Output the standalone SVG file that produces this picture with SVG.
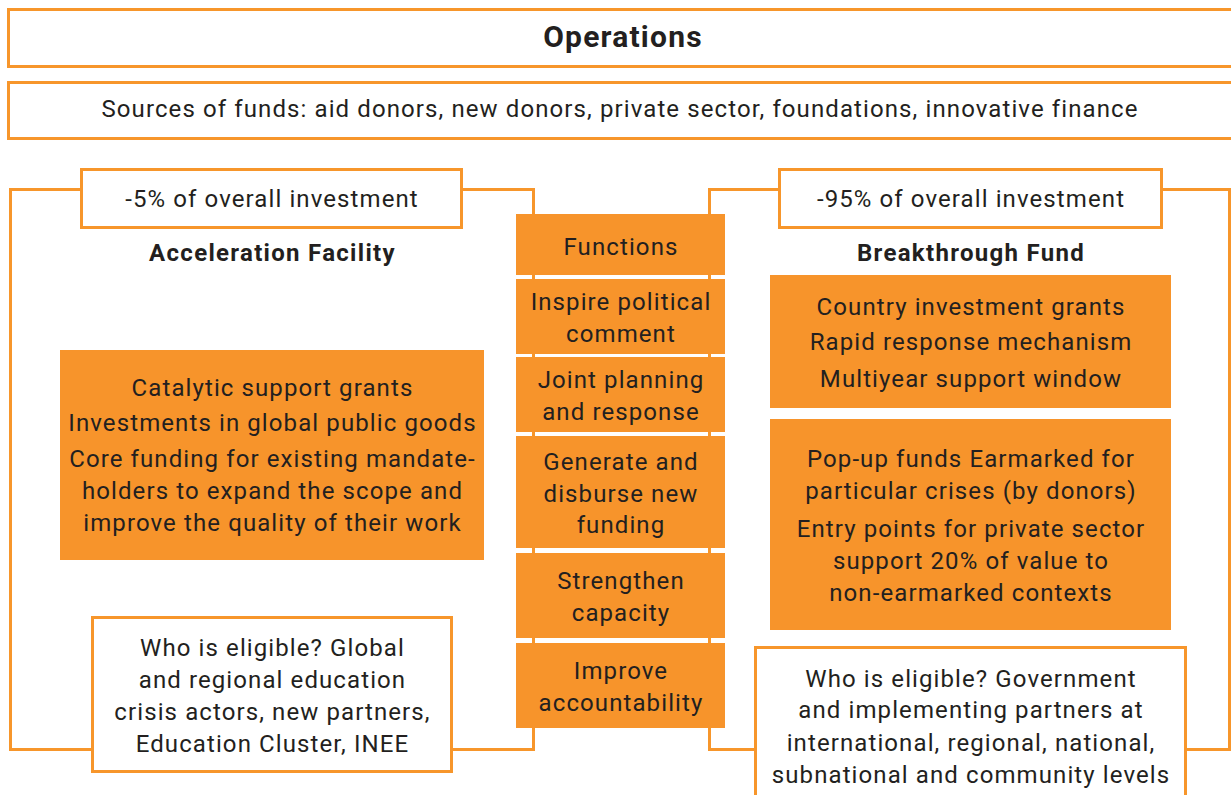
<svg xmlns="http://www.w3.org/2000/svg" width="1231" height="795" viewBox="0 0 1231 795">
  <defs>
    <style>
      .frame { fill: #ffffff; stroke: #F7962B; stroke-width: 3; }
      .fill { fill: #F7942B; stroke: none; }
      .bracket { fill: none; stroke: #F7962B; stroke-width: 3; }
      text { font-family: Roboto, "Liberation Sans", sans-serif; font-size: 24px; letter-spacing: 1.1px; fill: #231F20; text-anchor: middle; }
      .bold { font-weight: bold; letter-spacing: 1.3px; }
      .title { font-size: 30px; font-weight: bold; letter-spacing: 1.2px; }
    </style>
  </defs>
  <rect width="1231" height="795" fill="#ffffff"/>

  <!-- bracket connectors behind the nodes -->
  <g id="connectors">
    <polyline class="bracket" points="81,189.5 10.5,189.5 10.5,749.5 92,749.5"/>
    <polyline class="bracket" points="462,189.5 533.5,189.5 533.5,749.5 452,749.5"/>
    <polyline class="bracket" points="779,189.5 709.5,189.5 709.5,749.5 755,749.5"/>
    <polyline class="bracket" points="1162,189.5 1229.5,189.5 1229.5,749.5 1185,749.5"/>
  </g>

  <g id="operations">
    <rect class="frame" x="8.5" y="9.5" width="1240" height="57"/>
    <text class="title" x="623" y="47">Operations</text>
  </g>

  <g id="sources">
    <rect class="frame" x="8.5" y="82.5" width="1240" height="56"/>
    <text x="620" y="117">Sources of funds: aid donors, new donors, private sector, foundations, innovative finance</text>
  </g>

  <!-- left column -->
  <g id="af-share">
    <rect class="frame" x="81.5" y="169.5" width="380" height="58"/>
    <text x="272" y="207">-5% of overall investment</text>
  </g>
  <g id="af-title">
    <text class="bold" x="272.5" y="261">Acceleration Facility</text>
  </g>
  <g id="af-instruments">
    <rect class="fill" x="60" y="350" width="424" height="210"/>
    <text x="272.5" y="396">Catalytic support grants</text>
    <text x="272.5" y="431">Investments in global public goods</text>
    <text x="272.5" y="467">Core funding for existing mandate-</text>
    <text x="272.5" y="499">holders to expand the scope and</text>
    <text x="272.5" y="531">improve the quality of their work</text>
  </g>
  <g id="af-eligible">
    <rect class="frame" x="92.5" y="617.5" width="359" height="154"/>
    <text x="272.5" y="656">Who is eligible? Global</text>
    <text x="272.5" y="688">and regional education</text>
    <text x="272.5" y="720">crisis actors, new partners,</text>
    <text x="272.5" y="752">Education Cluster, INEE</text>
  </g>

  <!-- centre column -->
  <g id="functions">
    <rect class="fill" x="516" y="214" width="209" height="61"/>
    <text x="621" y="255">Functions</text>
  </g>
  <g id="fn-inspire">
    <rect class="fill" x="516" y="279" width="209" height="75"/>
    <text x="621" y="310">Inspire political</text>
    <text x="621" y="342">comment</text>
  </g>
  <g id="fn-planning">
    <rect class="fill" x="516" y="357" width="209" height="75"/>
    <text x="621" y="388">Joint planning</text>
    <text x="621" y="420">and response</text>
  </g>
  <g id="fn-funding">
    <rect class="fill" x="516" y="436" width="209" height="112"/>
    <text x="621" y="470">Generate and</text>
    <text x="621" y="502">disburse new</text>
    <text x="621" y="533">funding</text>
  </g>
  <g id="fn-capacity">
    <rect class="fill" x="516" y="553" width="209" height="85"/>
    <text x="621" y="589">Strengthen</text>
    <text x="621" y="621">capacity</text>
  </g>
  <g id="fn-accountability">
    <rect class="fill" x="516" y="643" width="209" height="85"/>
    <text x="621" y="679">Improve</text>
    <text x="621" y="711">accountability</text>
  </g>

  <!-- right column -->
  <g id="bf-share">
    <rect class="frame" x="779.5" y="169.5" width="382" height="58"/>
    <text x="971" y="207">-95% of overall investment</text>
  </g>
  <g id="bf-title">
    <text class="bold" x="971" y="261">Breakthrough Fund</text>
  </g>
  <g id="bf-windows">
    <rect class="fill" x="770" y="275" width="401" height="133"/>
    <text x="971" y="315">Country investment grants</text>
    <text x="971" y="350">Rapid response mechanism</text>
    <text x="971" y="387">Multiyear support window</text>
  </g>
  <g id="bf-popup">
    <rect class="fill" x="770" y="419" width="401" height="211"/>
    <text x="971" y="467">Pop-up funds Earmarked for</text>
    <text x="971" y="499">particular crises (by donors)</text>
    <text x="971" y="537">Entry points for private sector</text>
    <text x="971" y="569">support 20% of value to</text>
    <text x="971" y="601">non-earmarked contexts</text>
  </g>
  <g id="bf-eligible">
    <rect class="frame" x="755.5" y="647.5" width="430" height="160"/>
    <text x="971" y="687">Who is eligible? Government</text>
    <text x="971" y="718">and implementing partners at</text>
    <text x="971" y="751">international, regional, national,</text>
    <text x="971" y="783">subnational and community levels</text>
  </g>
</svg>
